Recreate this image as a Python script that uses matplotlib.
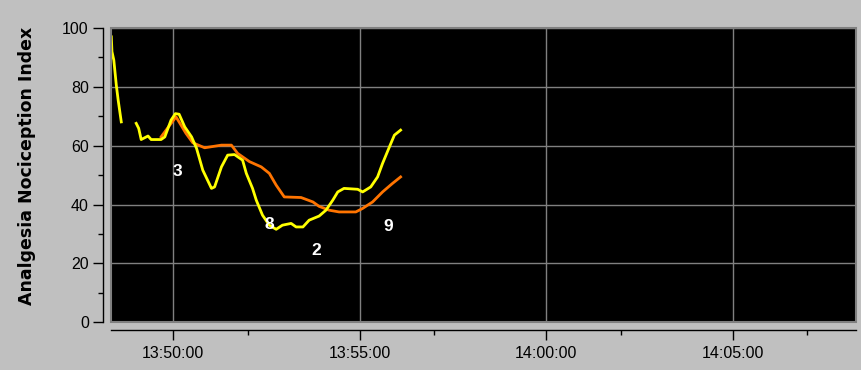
"""Analgesia Nociception Index trend plot, monitor-screen style."""
import matplotlib
matplotlib.use("Agg")
import matplotlib.pyplot as plt
import matplotlib.dates as mdates
from matplotlib.patches import Rectangle
import pandas as pd

DAY = "2000-01-01 "

# yellow trace, two segments (gap around 13:48:40 - 13:49:00)
yellow_t1 = ["13:48:21", "13:48:22", "13:48:25", "13:48:29", "13:48:32", "13:48:37"]
yellow_v1 = [97.0, 92.0, 89.1, 80.6, 75.5, 68.1]

yellow_t2 = ["13:49:01", "13:49:05", "13:49:09", "13:49:20", "13:49:25", "13:49:41",
             "13:49:47", "13:49:57", "13:50:04", "13:50:10", "13:50:19", "13:50:30",
             "13:50:38", "13:50:48", "13:51:02", "13:51:07", "13:51:18", "13:51:28",
             "13:51:39", "13:51:52", "13:51:58", "13:52:08", "13:52:14", "13:52:24",
             "13:52:35", "13:52:46", "13:52:56", "13:53:10", "13:53:18", "13:53:29",
             "13:53:39", "13:53:55", "13:54:06", "13:54:17", "13:54:25", "13:54:35",
             "13:54:57", "13:55:05", "13:55:18", "13:55:29", "13:55:37", "13:55:48",
             "13:55:56", "13:56:06"]
yellow_v2 = [67.6, 65.9, 62.1, 63.3, 62.1, 62.1,
             63.0, 68.7, 70.9, 70.7, 66.4, 63.0,
             59.1, 51.7, 45.5, 46.0, 52.8, 56.8,
             57.0, 55.1, 50.6, 45.5, 41.5, 36.4,
             33.0, 31.6, 33.0, 33.6, 32.4, 32.4,
             34.7, 36.1, 38.1, 41.5, 44.3, 45.5,
             45.2, 44.3, 46.0, 49.4, 54.0, 59.6,
             63.6, 65.3]

# orange trace
orange_t = ["13:49:41", "13:49:55", "13:50:05", "13:50:21", "13:50:32", "13:50:51",
            "13:51:18", "13:51:34", "13:51:44", "13:52:03", "13:52:22", "13:52:35",
            "13:52:46", "13:52:59", "13:53:26", "13:53:45", "13:53:55", "13:54:11",
            "13:54:27", "13:54:54", "13:55:05", "13:55:21", "13:55:37", "13:55:53",
            "13:56:06"]
orange_v = [63.0, 67.0, 69.8, 64.2, 61.0, 59.3,
            60.2, 60.2, 57.4, 54.6, 52.8, 50.6,
            46.6, 42.6, 42.4, 40.9, 39.4, 38.1,
            37.5, 37.5, 38.7, 40.9, 44.3, 47.2,
            49.4]

# event markers
event_labels = ["3", "8", "2", "9"]
event_t = ["13:50:08", "13:52:35", "13:53:50", "13:55:46"]
event_v = [51.1, 33.2, 24.4, 32.5]

x_start, x_end = "13:48:20", "14:08:18"


def to_dt(times):
    return pd.to_datetime([DAY + t for t in times])


BG = "#c0c0c0"
GRID = "#808080"

fig = plt.figure(figsize=(8.62, 3.70), dpi=100, facecolor=BG)
ax = fig.add_axes([110.7 / 862, 1 - 322.3 / 370, (856 - 110.7) / 862, (322.3 - 28) / 370])
ax.set_facecolor("black")

ax.plot(to_dt(orange_t), orange_v, color="#ff7400", lw=2.0)
ax.plot(to_dt(yellow_t1), yellow_v1, color="#ffff00", lw=2.0)
ax.plot(to_dt(yellow_t2), yellow_v2, color="#ffff00", lw=2.0)

for lab, t, v in zip(event_labels, to_dt(event_t), event_v):
    ax.text(t, v, lab, color="white", fontsize=12.5, fontweight="bold",
            family="Liberation Sans", ha="center", va="center")

ax.set_xlim(to_dt([x_start])[0], to_dt([x_end])[0])
ax.set_ylim(0, 100)

ax.xaxis.set_major_locator(mdates.MinuteLocator(byminute=range(0, 60, 5)))
ax.xaxis.set_minor_locator(mdates.MinuteLocator(byminute=[2, 7, 12, 17, 22, 27, 32, 37, 42, 47, 52, 57]))
ax.xaxis.set_major_formatter(mdates.DateFormatter("%H:%M:%S"))
ax.set_yticks(range(0, 101, 20))
ax.set_yticks(range(10, 100, 20), minor=True)

ax.grid(True, which="major", color=GRID, lw=1.0)

for side in ("top", "right"):
    ax.spines[side].set_visible(False)
for side in ("left", "bottom"):
    ax.spines[side].set_position(("outward", 5.6))
    ax.spines[side].set_color("black")
    ax.spines[side].set_linewidth(1.0)

# grey frame round the black plot area
ax.add_patch(Rectangle((0, 0), 1, 1, transform=ax.transAxes, fill=False,
                       edgecolor=GRID, lw=1.5, clip_on=False, zorder=5))

ax.tick_params(which="major", length=7.2, width=1, color="black", labelsize=11.5)
ax.tick_params(which="minor", length=3.6, width=1, color="black")
ax.tick_params(axis="x", which="major", pad=4)
ax.tick_params(axis="y", which="major", pad=3)
for lbl in ax.get_xticklabels() + ax.get_yticklabels():
    lbl.set_family("Liberation Sans")

ax.set_ylabel("Analgesia Nociception Index", fontsize=12.5, fontweight="bold",
              family="DejaVu Sans")
ax.yaxis.set_label_coords(-0.1, 0.53)

fig.savefig("out.png", dpi=100, facecolor=BG)
